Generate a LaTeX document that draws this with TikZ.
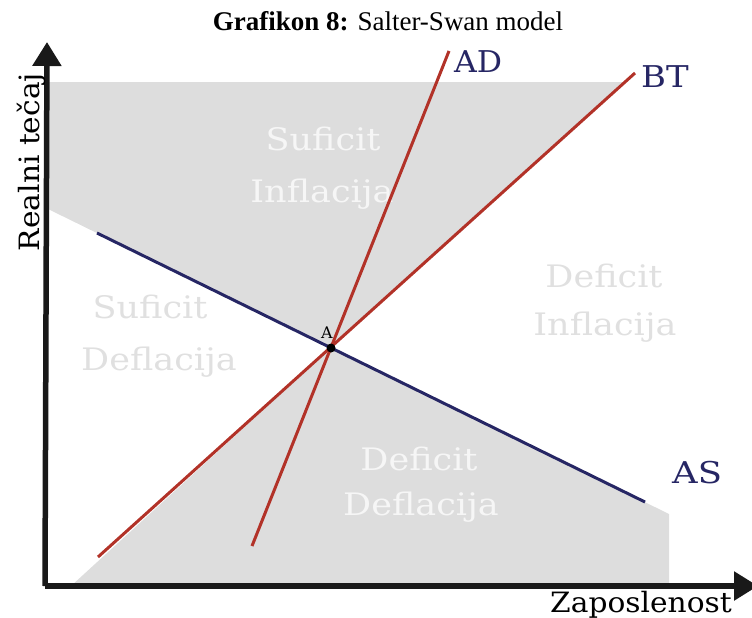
\documentclass[tikz,border=0pt]{standalone}
\usepackage{fontspec}
\usepackage{graphicx}
\setmainfont{DejaVu Serif}
\newfontfamily\timesf{Liberation Serif}
\usetikzlibrary{arrows.meta}
\definecolor{grayfill}{RGB}{221,221,221}
\definecolor{redl}{RGB}{178,50,40}
\definecolor{navy}{RGB}{38,38,100}
\definecolor{txtw}{RGB}{246,246,246}
\definecolor{txtg}{RGB}{224,224,224}
\newcommand{\widetxt}[2]{\scalebox{#1}[1]{#2}}
\tikzset{
  curve red/.style={draw=redl, line width=3pt},
  curve blue/.style={draw=navy, line width=3pt},
  axis/.style={draw=black!90, line width=5.5pt, -{Triangle[length=24pt,width=28pt]}},
  region/.style={anchor=base, inner sep=0pt, font=\fontsize{31}{31}\selectfont},
  curvelabel/.style={anchor=base west, inner sep=0pt, text=navy, font=\fontsize{30}{30}\selectfont},
}
\begin{document}
\begin{tikzpicture}[x=1pt,y=-1pt]
\useasboundingbox (0,0) rectangle (752,618);
\coordinate (A) at (331,348);
\coordinate (ADb) at (252,546);
\coordinate (ADt) at (449,51);
\coordinate (BTb) at (98,557);
\coordinate (BTt) at (635,73);
\coordinate (ASl) at (97,233);
\coordinate (ASr) at (645,502);
% shaded regions
\fill[grayfill] (48,82) -- (625,82) -- (A) -- (48,209) -- cycle;
\fill[grayfill] (A) -- (71,586) -- (669,586) -- (669,514) -- cycle;
% region labels
\node[region, text=txtw] (t1) at (323,150) {\widetxt{1.13}{Suficit}};
\node[region, text=txtw] (t2) at (322,202) {\widetxt{1.13}{Inflacija}};
\node[region, text=txtg] (t3) at (604,287) {\widetxt{1.13}{Deficit}};
\node[region, text=txtg] (t4) at (605,335) {\widetxt{1.13}{Inflacija}};
\node[region, text=txtg] (t5) at (150,318) {\widetxt{1.13}{Suficit}};
\node[region, text=txtg] (t6) at (159,370) {\widetxt{1.13}{Deflacija}};
\node[region, text=txtw] (t7) at (419,470) {\widetxt{1.13}{Deficit}};
\node[region, text=txtw] (t8) at (421,515) {\widetxt{1.13}{Deflacija}};
% curves
\draw[curve blue] (ASl) -- (ASr);
\draw[curve red] (BTb) -- (BTt);
\draw[curve red] (ADb) -- (ADt);
\fill[black] (A) circle (4.5pt);
\node[anchor=base, inner sep=0pt, font=\fontsize{16}{16}\selectfont] (lA) at (327,338) {A};
% curve labels
\node[curvelabel] (lAD) at (454,72) {\widetxt{1.05}{AD}};
\node[curvelabel] (lBT) at (641,87) {\widetxt{1.13}{BT}};
\node[curvelabel] (lAS) at (672,483) {\widetxt{1.18}{AS}};
% axes
\coordinate (O) at (47,586);
\coordinate (Ytop) at (47,42);
\coordinate (Xend) at (758,586);
\draw[axis] (45,586) -- (Ytop);
\draw[axis] (45,586) -- (Xend);
\node[anchor=base, inner sep=0pt, font=\fontsize{28}{28}\selectfont] (xl) at (641,612) {\widetxt{1.06}{Zaposlenost}};
\node[anchor=base, rotate=90, inner sep=0pt, font=\fontsize{28}{28}\selectfont] (yl) at (39,162) {\widetxt{1.06}{Realni tečaj}};
% title
\node[anchor=base, inner sep=0pt, font=\timesf\fontsize{27}{27}\selectfont] (title) at (388,31) {\textbf{Grafikon 8:} Salter-Swan model};
\end{tikzpicture}
\end{document}
